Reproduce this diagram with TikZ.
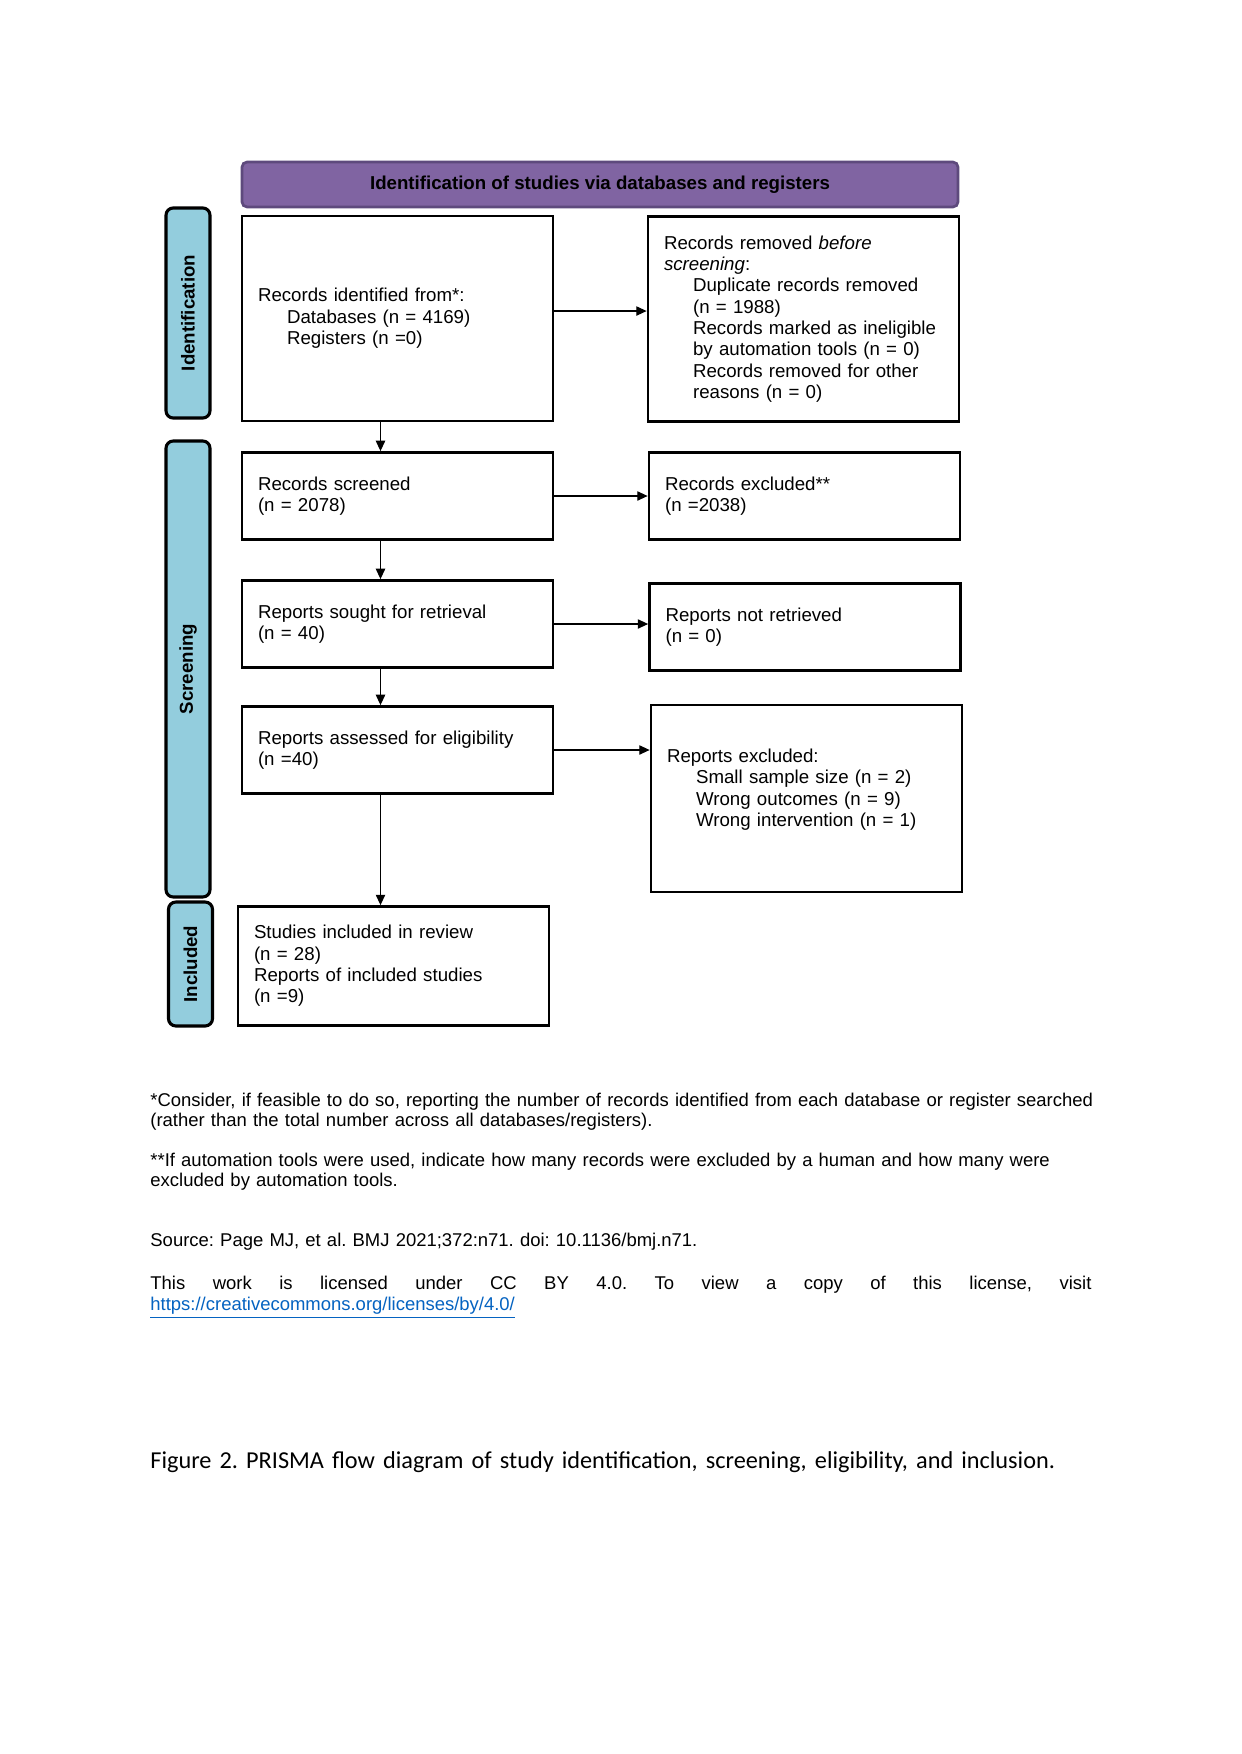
\documentclass[tikz,border=0pt]{standalone}
\usepackage{fontspec}
\setmainfont{Liberation Sans}
\newfontfamily\capfont{Carlito}
\usetikzlibrary{arrows.meta,positioning,calc}
\definecolor{headfill}{HTML}{8064A2}
\definecolor{headedge}{HTML}{5E4A7D}
\definecolor{sideblue}{HTML}{93CDDD}
\definecolor{linkblue}{HTML}{0563C1}
\newcommand{\ind}{\hspace*{14pt}}
\frenchspacing

\begin{document}
\begin{tikzpicture}[x=0.4818pt, y=-0.4818pt, font=\fontsize{9}{10.3}\selectfont,
  box/.style={draw, line width=1.35pt, minimum width=149.8pt, text width=134.4pt, inner xsep=7.7pt, align=left},
  side/.style={draw, line width=1.5pt, rounded corners=3.5pt, fill=sideblue, rotate=90, minimum height=21.2pt, font=\fontsize{9}{10}\selectfont\bfseries},
  head/.style={draw=headedge, line width=1.3pt, rounded corners=2.5pt, fill=headfill, minimum width=345pt, minimum height=21.7pt, font=\fontsize{9}{10}\selectfont\bfseries},
  note/.style={anchor=base west, inner sep=0pt, text width=470pt, align=left, font=\fontsize{8.9}{10.1}\selectfont},
  arr/.style={line width=0.6pt, -{Triangle[length=5pt, width=4.5pt]}}]
\fill[white] (0,0) rectangle (1241,1754);

\node[head] (head) at (600,184.5) {Identification of studies via databases and registers};
\node[side, minimum width=101.2pt] (sideid) at (188,313) {Identification};
\node[side, minimum width=219.7pt] (sidescr) at (188,669) {Screening};
\node[side, minimum width=59.7pt] (sideinc) at (190.5,964) {Included};

\node[box, minimum height=98.8pt] (ident) at (397.5,318.5) {Records identified from*:\\ \ind Databases (n = 4169)\\ \ind Registers (n =0)};
\node[box, minimum height=98.8pt] (removed) at (803.5,319) {Records removed \textit{before}\\ \textit{screening}:\\ \ind Duplicate records removed\\ \ind (n = 1988)\\ \ind Records marked as ineligible\\ \ind by automation tools (n = 0)\\ \ind Records removed for other\\ \ind reasons (n = 0)};
\node[box, minimum height=41.9pt] (screened) at (397.5,496) {Records screened\\ (n = 2078)};
\node[box, minimum height=41.9pt] (excluded) at (804.5,496) {Records excluded**\\ (n =2038)};
\node[box, minimum height=41.9pt] (sought) at (397.5,624) {Reports sought for retrieval\\ (n = 40)};
\node[box, minimum height=41.9pt] (notret) at (805,627) {Reports not retrieved\\ (n = 0)};
\node[box, minimum height=41.9pt] (assessed) at (397.5,750) {Reports assessed for eligibility\\ (n =40)};
\node[box, minimum height=90.1pt] (repexcl) at (806.5,798.5) {Reports excluded:\\ \ind Small sample size (n = 2)\\ \ind Wrong outcomes (n = 9)\\ \ind Wrong intervention (n = 1)\\ \mbox{}};
\node[box, minimum height=57.3pt] (included) at (393.5,966) {Studies included in review\\ (n = 28)\\ Reports of included studies\\ (n =9)};

\coordinate (vx) at (380.5,0);
\draw[arr] ([yshift=3.6pt]ident.east) -- ([yshift=3.6pt]ident.east -| removed.west);
\foreach \a/\b in {screened/excluded,sought/notret,assessed/repexcl}
  \draw[arr] (\a.east) -- (\a.east -| \b.west);
\foreach \a/\b in {ident/screened,screened/sought,sought/assessed,assessed/included}
  \draw[arr] (\a.south -| vx) -- (\b.north -| vx);

\node[note] (fn1) at (150,1106) {*Consider, if feasible to do so, reporting the number of records identified from each database or register searched\\ (rather than the total number across all databases/registers).};
\node[note] (fn2) at (150,1166) {**If automation tools were used, indicate how many records were excluded by a human and how many were\\ excluded by automation tools.};
\node[note] (src) at (150,1246.5) {Source: Page MJ, et al. BMJ 2021;372:n71. doi: 10.1136/bmj.n71.};
\node[note] (lic) at (150,1289.5) {\hbox to 453.4pt{This\hfill work\hfill is\hfill licensed\hfill under\hfill CC\hfill BY\hfill 4.0.\hfill To\hfill view\hfill a\hfill copy\hfill of\hfill this\hfill license,\hfill visit}\\ \textcolor{linkblue}{\underline{https://creativecommons.org/licenses/by/4.0/}}};
\node[note, font=\capfont\fontsize{11.7}{14}\selectfont] (cap) at (150,1468) {Figure 2. PRISMA flow diagram of study identification, screening, eligibility, and inclusion.};
\end{tikzpicture}
\end{document}
